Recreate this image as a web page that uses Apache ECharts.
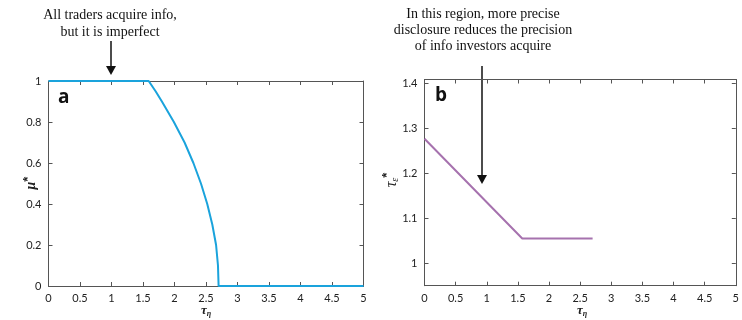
<!DOCTYPE html>
<html><head><meta charset="utf-8">
<script src="https://cdn.jsdelivr.net/npm/echarts@6/dist/echarts.min.js"></script>
<style>html,body{margin:0;padding:0;background:#fff}#c{width:742px;height:320px}</style>
</head><body><div id="c"></div>
<script>
// ---- data ----
const xTicks = [0, 0.5, 1, 1.5, 2, 2.5, 3, 3.5, 4, 4.5, 5];
const muTicks = [0, 0.2, 0.4, 0.6, 0.8, 1];
const tauTicks = [1, 1.1, 1.2, 1.3, 1.4];
const muX = [0, 1.59, 1.70, 1.80, 1.99, 2.16, 2.30, 2.42, 2.52, 2.60, 2.66, 2.69, 2.70, 5];
const muY = [1, 1, 0.95, 0.9, 0.8, 0.7, 0.6, 0.5, 0.4, 0.3, 0.2, 0.1, 0, 0];
const tauX = [0, 1.57, 2.70];
const tauY = [1.277, 1.055, 1.055];

const axCol = '#555';
const lblStyle = {color: '#222', fontSize: 11, fontFamily: 'Lato', margin: 7};
function xa(gi, pos, show) {
  return {gridIndex: gi, type: 'value', min: 0, max: 5, interval: 0.5, position: pos,
    axisLine: {show: true, onZero: false, lineStyle: {color: axCol, width: 1}},
    axisTick: {show: true, inside: true, length: 4, lineStyle: {color: axCol}},
    axisLabel: Object.assign({show: show}, lblStyle), splitLine: {show: false}};
}
function ya(gi, pos, show, min, max, interval, ticks) {
  return {gridIndex: gi, type: 'value', min: min, max: max, interval: interval, position: pos,
    axisLine: {show: true, onZero: false, lineStyle: {color: axCol, width: 1}},
    axisTick: {show: true, inside: true, length: 4, lineStyle: {color: axCol},
      customValues: ticks},
    axisLabel: Object.assign({show: show, customValues: ticks,
      formatter: v => String(Math.round(v * 10) / 10)}, lblStyle),
    splitLine: {show: false}};
}

const chart = echarts.init(document.getElementById('c'), null, {renderer: 'canvas'});
chart.setOption({
  animation: false,
  grid: [
    {left: 48.5, right: 378.5, top: 81, bottom: 34},
    {left: 424.5, right: 2, top: 79.5, bottom: 34.3}
  ],
  xAxis: [xa(0, 'bottom', true), xa(0, 'top', false), xa(1, 'bottom', true), xa(1, 'top', false)],
  yAxis: [
    ya(0, 'left', true, 0, 1, 0.2, muTicks), ya(0, 'right', false, 0, 1, 0.2, muTicks),
    ya(1, 'left', true, 0.95, 1.409, null, tauTicks), ya(1, 'right', false, 0.95, 1.409, null, tauTicks)
  ],
  series: [
    {type: 'line', xAxisIndex: 0, yAxisIndex: 0, data: muX.map((x, i) => [x, muY[i]]),
      showSymbol: false, smooth: false, lineStyle: {color: '#1aa3dc', width: 2}, z: 5},
    {type: 'line', xAxisIndex: 2, yAxisIndex: 2, data: tauX.map((x, i) => [x, tauY[i]]),
      showSymbol: false, lineStyle: {color: '#a672ae', width: 2}, z: 5}
  ],
  graphic: [
    {type: 'text', left: 58, top: 88, style: {text: 'a', font: 'bold 19px "Open Sans"', fill: '#111'}},
    {type: 'text', left: 435, top: 86, style: {text: 'b', font: 'bold 19px "Open Sans"', fill: '#111'}},
    {type: 'text', x: 206, y: 311, style: {text: '{i|τ}{s|η}', align: 'center', verticalAlign: 'middle',
      rich: {i: {font: 'italic bold 13px "Liberation Serif"', fill: '#222'}, s: {font: 'italic bold 8px "Liberation Serif"', fill: '#222', padding: [6, 0, 0, 0]}}}},
    {type: 'text', x: 582, y: 311, style: {text: '{i|τ}{s|η}', align: 'center', verticalAlign: 'middle',
      rich: {i: {font: 'italic bold 13px "Liberation Serif"', fill: '#222'}, s: {font: 'italic bold 8px "Liberation Serif"', fill: '#222', padding: [6, 0, 0, 0]}}}},
    {type: 'text', x: 31, y: 183, rotation: Math.PI / 2, style: {text: '{i|μ}{s|*}', align: 'center', verticalAlign: 'middle',
      rich: {i: {font: 'italic bold 14px "Liberation Serif"', fill: '#222'}, s: {font: 'bold 13px "Liberation Sans"', fill: '#222', padding: [0, 0, 6, 0]}}}},
    {type: 'text', x: 392, y: 180, rotation: Math.PI / 2, style: {text: '{i|τ}{e|ε}{s|*}', align: 'center', verticalAlign: 'middle',
      rich: {i: {font: 'italic 16px "Liberation Serif"', fill: '#222'}, e: {font: 'italic 10px "Liberation Serif"', fill: '#222', padding: [6, 0, 0, 0]}, s: {font: 'bold 13px "Liberation Sans"', fill: '#222', padding: [0, 0, 10, 0]}}}},
    {type: 'text', x: 110, y: 24, style: {text: 'All traders acquire info,\nbut it is imperfect', align: 'center', verticalAlign: 'middle',
      font: '14px "Liberation Serif"', lineHeight: 17, fill: '#111'}},
    {type: 'text', x: 483, y: 30, style: {text: 'In this region, more precise\ndisclosure reduces the precision\nof info investors acquire', align: 'center', verticalAlign: 'middle',
      font: '14px "Liberation Serif"', lineHeight: 16, fill: '#111'}},
    {type: 'line', shape: {x1: 111, y1: 41, x2: 111, y2: 67}, style: {stroke: '#111', lineWidth: 1.5}},
    {type: 'polygon', shape: {points: [[106, 66], [116, 66], [111, 75]]}, style: {fill: '#111'}},
    {type: 'line', shape: {x1: 482, y1: 66, x2: 482, y2: 176}, style: {stroke: '#111', lineWidth: 1.5}},
    {type: 'polygon', shape: {points: [[477, 175], [487, 175], [482, 184]]}, style: {fill: '#111'}}
  ]
});
</script></body></html>
